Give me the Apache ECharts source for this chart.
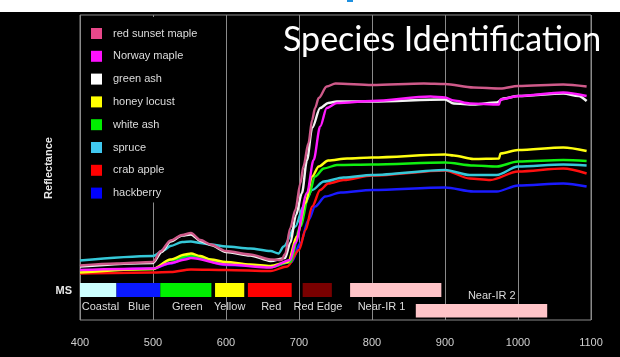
<!DOCTYPE html>
<html>
<head>
<meta charset="utf-8">
<script src="https://cdn.jsdelivr.net/npm/echarts@6/dist/echarts.min.js"></script>
<style>
html,body{margin:0;padding:0;background:#000;}
#c{width:620px;height:357px;}
</style>
</head>
<body>
<div id="c"></div>
<script>
// wavelength (nm) tick labels
var xTicks = [400, 500, 600, 700, 800, 900, 1000, 1100];

// species names (legend order)
var speciesNames = ['red sunset maple', 'Norway maple', 'green ash', 'honey locust', 'white ash', 'spruce', 'crab apple', 'hackberry'];

// reflectance curves: [wavelength nm, reflectance (relative units)]
var redSunsetMaple = [[400,10.9],[450,11.3],[500,11.6],[510,13.7],[524,15.9],[540,17.0],[552,17.4],[565,16.0],[579,15.1],[600,13.8],[633,13.1],[661,12.1],[676,12.0],[681,13.2],[688,18.4],[695,22.0],[702,27.4],[706,30.7],[713,35.4],[718,40.0],[722,42.4],[727,44.4],[738,46.7],[750,47.3],[800,47.0],[871,47.3],[900,47.2],[939,46.5],[976,46.3],[1000,46.8],[1062,47.1],[1094,46.7]];
var norwayMaple = [[400,10.0],[500,10.3],[524,11.4],[544,12.1],[552,12.4],[600,11.1],[661,10.5],[688,12.0],[695,15.4],[711,25.4],[720,32.0],[729,38.7],[738,42.4],[752,43.4],[800,43.8],[880,44.7],[900,44.5],[912,43.9],[934,43.3],[974,43.1],[976,44.1],[1000,44.8],[1062,45.5],[1094,44.8]];
var greenAsh = [[400,10.7],[500,11.4],[512,13.6],[524,15.7],[540,16.9],[552,17.1],[565,15.8],[579,15.0],[600,13.6],[633,12.9],[661,11.8],[681,12.4],[688,15.4],[696,21.0],[704,25.4],[711,32.0],[718,38.4],[729,42.4],[740,43.4],[752,43.7],[800,43.7],[900,44.1],[912,43.3],[939,43.1],[971,43.5],[980,44.3],[1000,44.8],[1062,45.3],[1083,44.8],[1094,43.8]];
var honeyLocust = [[400,9.5],[500,10.2],[524,12.1],[544,13.1],[552,13.3],[565,12.8],[579,12.1],[600,11.6],[633,11.1],[661,10.8],[685,11.6],[697,16.7],[709,23.4],[718,28.7],[727,30.7],[740,31.9],[766,32.3],[800,32.5],[900,33.1],[912,32.9],[939,32.2],[974,32.3],[976,33.3],[1000,34.0],[1062,34.5],[1094,33.8]];
var whiteAsh = [[400,9.7],[500,10.2],[524,12.0],[552,12.9],[600,11.4],[661,10.6],[688,11.6],[702,18.7],[713,24.7],[722,28.7],[734,30.3],[752,31.0],[800,31.1],[900,31.5],[939,30.9],[971,30.7],[1000,31.7],[1062,32.0],[1094,31.8]];
var spruce = [[400,11.9],[500,12.8],[515,14.0],[524,14.8],[540,15.6],[552,15.7],[565,15.4],[579,15.1],[600,14.7],[633,14.3],[661,13.8],[672,13.3],[679,14.7],[695,18.7],[706,22.7],[718,26.0],[734,27.7],[761,28.5],[800,29.0],[900,30.0],[934,29.0],[971,29.0],[1000,30.7],[1062,31.1],[1094,30.9]];
var crabApple = [[400,9.3],[500,9.5],[524,9.6],[552,10.1],[600,10.0],[661,9.8],[684,10.7],[700,14.0],[709,18.0],[718,22.7],[729,26.0],[740,27.3],[761,28.0],[800,28.9],[900,29.9],[934,28.3],[962,28.0],[1000,29.7],[1062,30.3],[1094,29.3]];
var hackberry = [[400,9.8],[500,10.3],[524,11.3],[552,12.8],[600,11.0],[661,10.7],[690,11.6],[702,15.4],[713,20.0],[722,22.7],[736,24.7],[757,25.5],[800,26.0],[900,26.5],[939,25.7],[971,25.7],[1000,26.9],[1062,27.3],[1094,26.7]];

// multispectral bands: [start nm, end nm, top, bottom]
var bandNames = ['Coastal', 'Blue', 'Green', 'Yellow', 'Red', 'Red Edge', 'Near-IR 1', 'Near-IR 2'];
var bandRanges = [[400,450,7.4,4.6],[450,510,7.4,4.6],[510,580,7.4,4.6],[585,625,7.4,4.6],[630,690,7.4,4.6],[705,745,7.4,4.6],[770,895,7.4,4.6],[860,1040,3.2,0.5]];
// band label anchor: [nm, value]
var bandLabelPos = [[428,2.6],[481,2.6],[547,2.6],[605,2.6],[662,2.6],[726,2.6],[813,2.6],[964,4.8]];

var lineColors = ['#cf5a8a', '#ff1aff', '#f2f2f2', '#ffff10', '#10f010', '#35c8d8', '#ff1010', '#1a1aff'];
var swatchColors = ['#e8488a', '#ff10ff', '#ffffff', '#ffff00', '#00ee00', '#40c8f0', '#ff0000', '#0000ff'];
var bandColors = ['#ccffff', '#0a1aff', '#00f000', '#ffff00', '#ff0000', '#7a0000', '#ffc4c8', '#ffc4c8'];

var curves = [redSunsetMaple, norwayMaple, greenAsh, honeyLocust, whiteAsh, spruce, crabApple, hackberry];

var chart = echarts.init(document.getElementById('c'), null, {renderer: 'canvas'});

var series = [];
// draw order (bottom first)
var drawOrder = [7, 6, 5, 4, 3, 2, 1, 0];
drawOrder.forEach(function (i) {
  series.push({
    name: speciesNames[i],
    type: 'line',
    data: curves[i],
    showSymbol: false,
    smooth: 0.3,
    smoothMonotone: 'x',
    itemStyle: {color: swatchColors[i]},
    lineStyle: {color: lineColors[i], width: 2.4},
    z: 3
  });
});

var bandData = bandRanges.map(function (r, i) { return r.concat([i]); });
series.push({
  type: 'custom',
  data: bandData,
  z: 2,
  renderItem: function (params, api) {
    var p0 = api.coord([api.value(0), api.value(2)]);
    var p1 = api.coord([api.value(1), api.value(3)]);
    var idx = api.value(4);
    return {
      type: 'rect',
      shape: {x: p0[0], y: p0[1], width: p1[0] - p0[0], height: p1[1] - p0[1]},
      style: {fill: bandColors[idx]}
    };
  }
});

var labelData = bandLabelPos.map(function (p, i) { return p.concat([i]); });
series.push({
  type: 'custom',
  data: labelData,
  z: 2,
  renderItem: function (params, api) {
    var p = api.coord([api.value(0), api.value(1)]);
    return {
      type: 'text',
      x: p[0], y: p[1],
      style: {text: bandNames[api.value(2)], fill: '#dcdcdc', font: '11px "Liberation Sans", Arial, sans-serif', align: 'center', verticalAlign: 'middle'}
    };
  }
});

chart.setOption({
  backgroundColor: '#000',
  animation: false,
  grid: {left: 80, right: 29, top: 15, bottom: 37, show: true, borderColor: '#8a8a8a', borderWidth: 1, backgroundColor: 'transparent'},
  xAxis: {
    type: 'value', min: 400, max: 1100, interval: 100,
    axisLine: {show: false}, axisTick: {show: false},
    splitLine: {show: true, lineStyle: {color: '#8a8a8a', width: 1}},
    axisLabel: {color: '#d0d0d0', fontSize: 11, margin: 17, fontFamily: 'Liberation Sans',
      formatter: function (v) { return xTicks.indexOf(v) >= 0 ? String(v) : ''; }}
  },
  yAxis: {
    type: 'value', min: 0, max: 61,
    axisLine: {show: false}, axisTick: {show: false}, axisLabel: {show: false}, splitLine: {show: false}
  },
  legend: {
    data: speciesNames,
    orient: 'vertical',
    left: 81, top: 17,
    padding: [11, 8, 4, 10],
    backgroundColor: '#000',
    itemWidth: 11, itemHeight: 11, itemGap: 11.8,
    icon: 'rect',
    textStyle: {color: '#dcdcdc', fontSize: 11, fontFamily: 'Liberation Sans', padding: [0, 0, 0, 6]},
    z: 5
  },
  graphic: [
    {type: 'rect', left: 0, top: 0, shape: {width: 620, height: 12}, style: {fill: '#ffffff'}, z: 10},
    {type: 'rect', shape: {x: 347, y: 0, width: 6, height: 2}, style: {fill: '#1e90e0'}, z: 11},
    {type: 'text', x: 283, y: 23, style: {text: 'Species Identification', fill: '#ffffff', font: '34px Lato, sans-serif', verticalAlign: 'top'}, z: 10},
    {type: 'text', x: 49, y: 168, rotation: Math.PI / 2, style: {text: 'Reflectance', fill: '#e8e8e8', font: 'bold 11px "Liberation Sans", Arial, sans-serif', align: 'center', verticalAlign: 'middle'}, z: 10},
    {type: 'text', x: 72, y: 291, style: {text: 'MS', fill: '#e8e8e8', font: 'bold 11px "Liberation Sans", Arial, sans-serif', align: 'right', verticalAlign: 'middle'}, z: 10}
  ],
  series: series
});
</script>
</body>
</html>
